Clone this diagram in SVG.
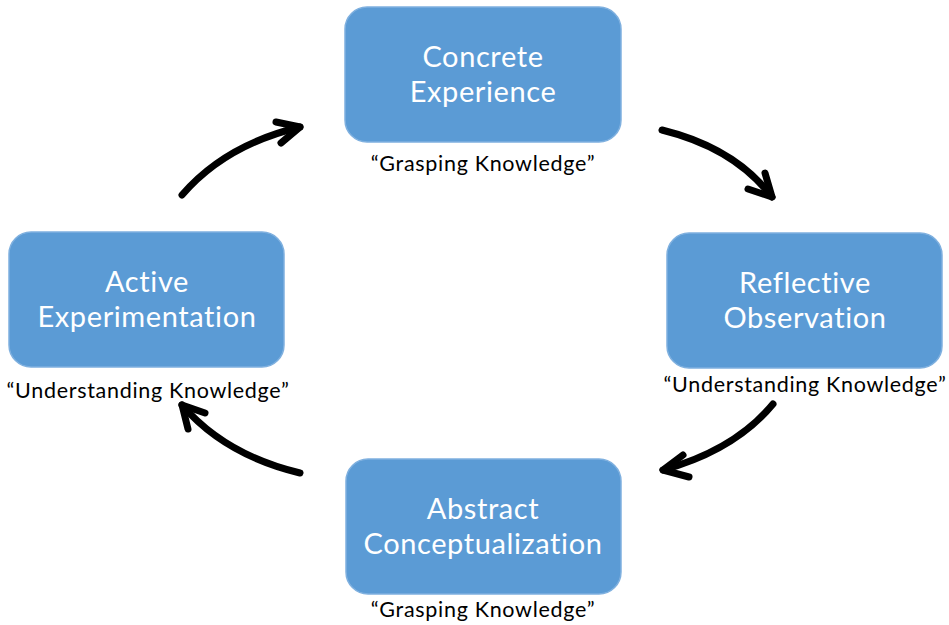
<svg xmlns="http://www.w3.org/2000/svg" width="949" height="625" viewBox="0 0 949 625">
<style>
.box{fill:#5b9bd5;stroke:#7fb0df;stroke-width:1.5}
.t{font-family:Lato,"Open Sans",sans-serif;font-size:29px;letter-spacing:0.6px;fill:#fff;text-anchor:middle}
.l{font-family:Lato,"Open Sans",sans-serif;font-size:21.5px;letter-spacing:0.7px;fill:#000;text-anchor:middle}
.a{fill:none;stroke:#000;stroke-width:7;stroke-linecap:round;stroke-linejoin:round}
</style>
<rect width="949" height="625" fill="#fff"/>
<g id="concrete">
<rect class="box" x="345" y="7" width="276" height="135" rx="22"/>
<text class="t" x="483" y="67">Concrete</text>
<text class="t" x="483" y="102">Experience</text>
<text class="l" x="483" y="171">“Grasping Knowledge”</text>
</g>
<g id="reflective">
<rect class="box" x="667" y="233" width="275" height="135" rx="22"/>
<text class="t" x="805" y="293">Reflective</text>
<text class="t" x="805" y="328">Observation</text>
<text class="l" x="805" y="392">“Understanding Knowledge”</text>
</g>
<g id="abstract">
<rect class="box" x="346" y="459" width="275" height="135" rx="22"/>
<text class="t" x="483" y="519">Abstract</text>
<text class="t" x="483" y="554">Conceptualization</text>
<text class="l" x="483" y="617">“Grasping Knowledge”</text>
</g>
<g id="active">
<rect class="box" x="9" y="232" width="275" height="135" rx="22"/>
<text class="t" x="147" y="292">Active</text>
<text class="t" x="147" y="327">Experimentation</text>
<text class="l" x="148" y="398">“Understanding Knowledge”</text>
</g>
<g id="connectors">
<path class="a" d="M182,195 Q225,145 300,127"/>
<path class="a" d="M276,122 L300,127 L281,143"/>
<path class="a" d="M662,130 Q735,148 772,197"/>
<path class="a" d="M765,173 L772,197 L748,189"/>
<path class="a" d="M773,404 Q735,450 663,470"/>
<path class="a" d="M683,455 L663,470 L689,477"/>
<path class="a" d="M300,473 Q225,455 182,405"/>
<path class="a" d="M188,429 L182,405 L205,413"/>
</g>
</svg>
